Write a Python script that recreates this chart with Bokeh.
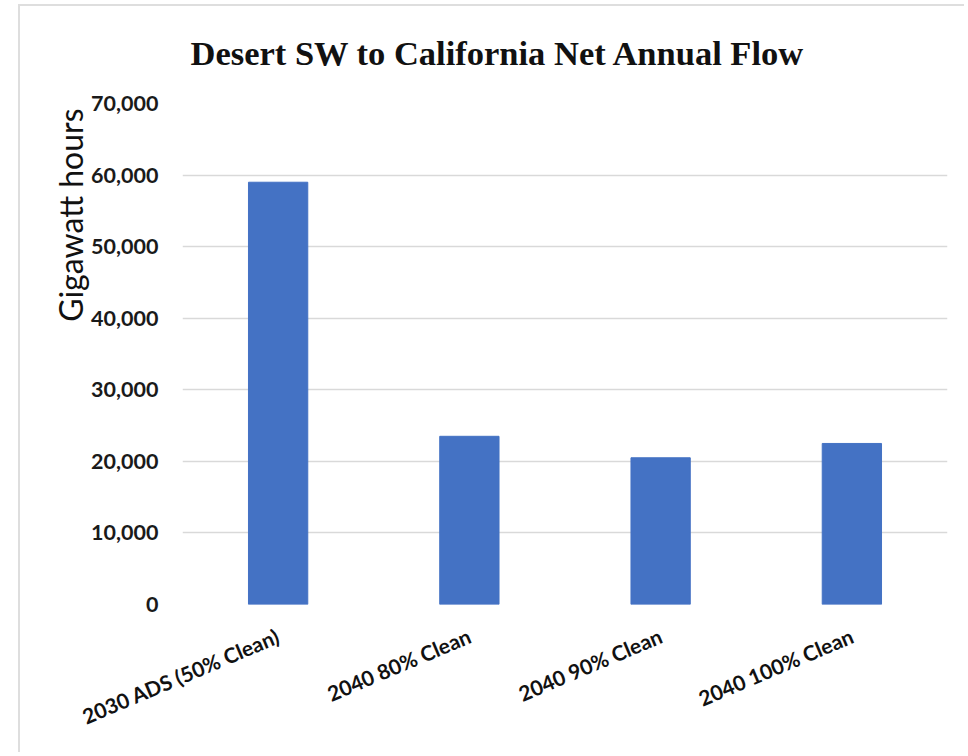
from bokeh.plotting import figure
from bokeh.models import FactorRange, Range1d, NumeralTickFormatter, FixedTicker, Title
from bokeh.embed import file_html
from bokeh.resources import INLINE

categories = ["2030 ADS (50% Clean)", "2040 80% Clean", "2040 90% Clean", "2040 100% Clean"]
values = [59000, 23500, 20500, 22500]
y_ticks = [0, 10000, 20000, 30000, 40000, 50000, 60000, 70000]
title_text = "Desert SW to California Net Annual Flow"
y_label = "Gigawatt hours"

W, H = 946, 748
p = figure(x_range=FactorRange(*categories, range_padding=0), y_range=Range1d(0, 70000),
           width=W, height=H, output_backend="svg", toolbar_location=None,
           min_border_left=162, min_border_right=19, min_border_top=97, min_border_bottom=150)
p.styles = {"margin-left": "18px", "margin-top": "4px",
            "border-top": "2px solid #dedede", "border-left": "2px solid #dedede"}
p.outline_line_color = None
p.background_fill_color = "white"
p.border_fill_color = "white"

p.vbar(x=categories, top=values, width=0.31, color="#4472C4", line_color="#4472C4")

p.xgrid.grid_line_color = None
p.ygrid.grid_line_color = "#d9d9d9"
p.ygrid.grid_line_width = 1.5

p.yaxis.ticker = FixedTicker(ticks=y_ticks)
p.yaxis.formatter = NumeralTickFormatter(format="0,0")
p.yaxis.axis_line_color = None
p.yaxis.major_tick_line_color = None
p.yaxis.minor_tick_line_color = None
p.yaxis.major_tick_out = 0
p.yaxis.major_tick_in = 0
p.yaxis.major_label_standoff = 24
p.yaxis.major_label_text_font = "Lato"
p.yaxis.major_label_text_font_style = "bold"
p.yaxis.major_label_text_font_size = "21.5px"
p.yaxis.major_label_text_color = "#1a1a1a"

p.xaxis.axis_line_color = None
p.xaxis.major_tick_line_color = None
p.xaxis.minor_tick_line_color = None
p.xaxis.major_tick_out = 0
p.xaxis.major_tick_in = 0
p.xaxis.major_label_orientation = 0.40
p.xaxis.major_label_standoff = 30
p.xaxis.major_label_text_font = "Lato"
p.xaxis.major_label_text_font_style = "bold"
p.xaxis.major_label_text_font_size = "21px"
p.xaxis.major_label_text_color = "#111111"

p.title.text = title_text
p.title.align = "left"
p.title.offset = 8
p.title.standoff = 45
p.title.text_font = "Liberation Serif"
p.title.text_font_style = "bold"
p.title.text_font_size = "34.5px"
p.title.text_color = "#111111"

# small spacer between the frame and the title
spacer = Title(text=" ", text_font_size="7px", standoff=0)
p.add_layout(spacer, "above")

yt = Title(text=y_label, align="right", offset=5, standoff=-3,
           text_font="Lato", text_font_style="normal", text_font_size="32px", text_color="#111111")
p.add_layout(yt, "left")

open("out.html", "w").write(file_html(p, INLINE))
